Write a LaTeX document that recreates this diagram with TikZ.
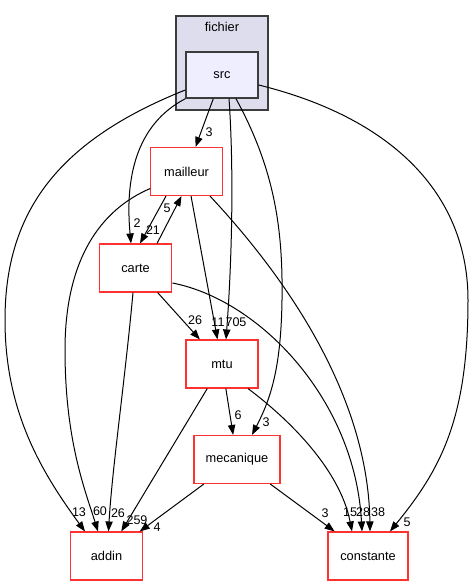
\documentclass[tikz,border=0pt]{standalone}
\usepackage{fontspec}
\setmainfont{Liberation Sans}
\usetikzlibrary{arrows.meta,calc}
\definecolor{clusterfill}{RGB}{221,221,238}
\definecolor{srcfill}{RGB}{238,238,255}
\definecolor{pen}{RGB}{60,60,60}
\definecolor{dirred}{RGB}{255,50,50}
\begin{document}
\begin{tikzpicture}[x=0.75pt,y=-0.75pt,
  dirbox/.style={draw=dirred,line width=0.85pt,fill=white,rectangle,inner sep=0pt,
    minimum height=36pt,font=\fontsize{9.6pt}{11pt}\selectfont},
  srcbox/.style={draw=pen,line width=1.1pt,fill=srcfill,rectangle,inner sep=0pt,
    minimum width=54pt,minimum height=34.5pt,font=\fontsize{9.6pt}{11pt}\selectfont},
  clusterbox/.style={draw=pen,line width=1.1pt,fill=clusterfill,rectangle,inner sep=0pt,
    minimum width=69pt,minimum height=70.5pt},
  dep/.style={draw=black,line width=0.75pt,-{Triangle[length=7.5pt,width=5.5pt]}},
  num/.style={font=\fontsize{9.4pt}{10pt}\selectfont,inner sep=0pt}]
\useasboundingbox (0,0) rectangle (475,585);
% cluster
\node[clusterbox] (fichier) at (222,63) {};
\node[font=\fontsize{9.6pt}{11pt}\selectfont,inner sep=0pt] (fichierlabel) at (222,27) {fichier};
\node[srcbox] (src) at (222,75) {src};
% directories
\node[dirbox,minimum width=53.5pt] (mailleur) at (186.5,171.5) {mailleur};
\node[dirbox,minimum width=54.5pt] (carte) at (135.5,268) {carte};
\node[dirbox,minimum width=54pt] (mtu) at (222,364) {mtu};
\node[dirbox,minimum width=64.5pt] (mecanique) at (237,459.5) {mecanique};
\node[dirbox,minimum width=54.5pt] (addin) at (106.5,556) {addin};
\node[dirbox,minimum width=60pt] (constante) at (368,556) {constante};
% edges from src
\draw[dep] (src) -- (mailleur);
\draw[dep] (src.south west) .. controls (135,125) and (125,180) .. ($(carte.north)+(-4.5,0)$);
\draw[dep] ($(src.west)+(0,15)$) .. controls (60,140) and (5,210) .. (5,320)
   .. controls (5,410) and (40,470) .. ($(addin.north)+(-21.5,0)$);
\draw[dep] ($(src.south)+(7,0)$) .. controls (234,170) and (232,260) .. ($(mtu.north)+(4,0)$);
\draw[dep] ($(src.south)+(14,0)$) .. controls (275,170) and (283,230) .. (282,300)
   .. controls (281,370) and (270,400) .. ($(mecanique.north)+(15,0)$);
\draw[dep] ($(src.east)+(0,10)$) .. controls (400,120) and (468,200) .. (468,300)
   .. controls (468,420) and (440,470) .. ($(constante.north)+(22,0)$);
% edges from mailleur
\draw[dep] ($(mailleur.south)+(-20.5,0)$) -- ($(carte.north)+(4.5,0)$);
\draw[dep] (mailleur) -- (mtu);
\draw[dep] ($(mailleur.west)+(0,17)$) .. controls (100,210) and (65,260) .. (65,350)
   .. controls (65,440) and (85,490) .. ($(addin.north)+(-8.5,0)$);
\draw[dep] ($(mailleur.south)+(23.5,0)$) .. controls (265,255) and (368,380) .. ($(constante.north)+(2,0)$);
% edges from carte
\draw[dep] ($(carte.north)+(21.5,0)$) -- ($(mailleur.south)+(-5,0)$);
\draw[dep] ($(carte.south)+(-2.5,0)$) .. controls (125,380) and (112,470) .. ($(addin.north)+(2,0)$);
\draw[dep] (carte) -- (mtu);
\draw[dep] ($(carte.east)+(0,15)$) .. controls (260,300) and (355,400) .. ($(constante.north)+(-6,0)$);
% edges from mtu
\draw[dep] (mtu) -- (mecanique);
\draw[dep] (mtu) -- (addin);
\draw[dep] ($(mtu.south)+(26,0)$) .. controls (290,420) and (340,470) .. ($(constante.north)+(-16,0)$);
% edges from mecanique
\draw[dep] (mecanique) -- (addin);
\draw[dep] (mecanique) -- (constante);
% labels
\node[num] (l1) at (209,132) {3};
\node[num] (l2) at (137,223) {2};
\node[num] (l3) at (153,230) {21};
\node[num] (l4) at (167,208) {5};
\node[num] (l5) at (79,512) {13};
\node[num] (l6) at (100,511) {60};
\node[num] (l7) at (118,513) {26};
\node[num] (l8) at (137,520) {259};
\node[num] (l9) at (157,527) {4};
\node[num] (l10) at (195,320) {26};
\node[num] (l11) at (218,322) {11};
\node[num] (l12) at (236,322) {705};
\node[num] (l13) at (238,415) {6};
\node[num] (l14) at (266,422) {3};
\node[num] (l15) at (325,513) {3};
\node[num] (l16) at (350,512) {15};
\node[num] (l17) at (363,512) {28};
\node[num] (l18) at (378,512) {38};
\node[num] (l19) at (407,522) {5};
\end{tikzpicture}
\end{document}
